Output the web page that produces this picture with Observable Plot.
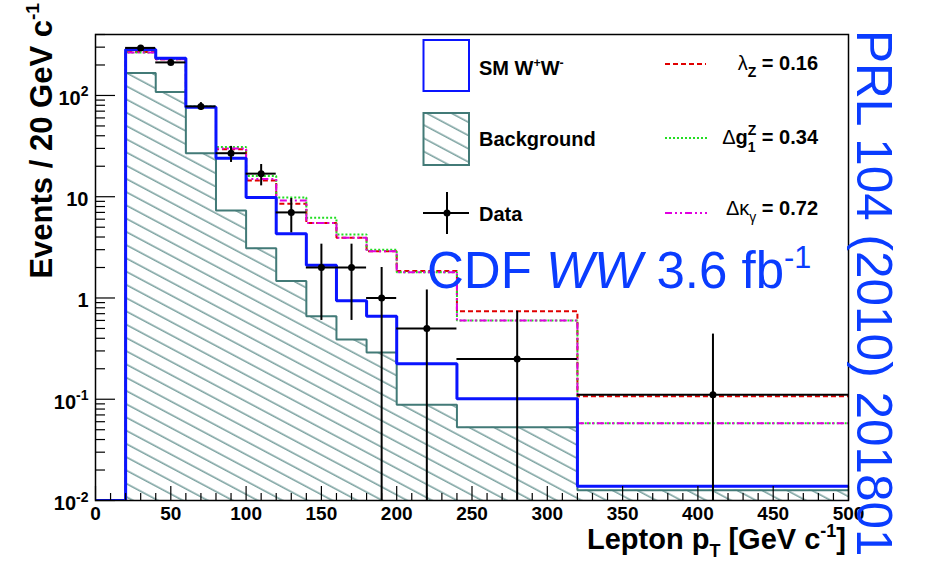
<!DOCTYPE html>
<html><head><meta charset="utf-8">
<script src="https://cdn.jsdelivr.net/npm/d3@7"></script>
<script src="https://cdn.jsdelivr.net/npm/@observablehq/plot@0.6"></script>
<style>body{margin:0;background:#fff} svg{display:block}</style>
</head><body><div id="chart"></div>
<script>
// ---- data ----
const binEdges = [0, 20, 40, 60, 80, 100, 120, 140, 160, 180, 200, 240, 320, 500];
const smWW            = [0, 285, 233, 76.7, 24, 9.8, 4.3, 2.1, 0.94, 0.66, 0.224, 0.101, 0.0138];
const background      = [0, 167, 108, 26.9, 7.3, 3.1, 1.47, 0.66, 0.39, 0.29, 0.088, 0.053, 0.0126];
const lambdaZ         = [0, 268, 228, 77, 29.5, 14.5, 8.5, 5.5, 3.93, 2.9, 1.85, 0.74, 0.107];
const deltaG1Z        = [0, 266, 229, 78, 31, 16, 9.8, 6.2, 4.24, 3.0, 1.8, 0.6, 0.058];
const deltaKappaGamma = [0, 265, 228, 77, 30, 15, 9.2, 5.5, 3.93, 2.9, 1.8, 0.6, 0.058];
const dataX     = [30, 50, 70, 90, 110, 130, 150, 170, 190, 220, 280, 410];
const dataXLow  = [20, 40, 60, 80, 100, 120, 140, 160, 180, 200, 240, 320];
const dataXHigh = [40, 60, 80, 100, 120, 140, 160, 180, 200, 240, 320, 500];
const dataY     = [295, 212, 78, 26.9, 16.9, 7.0, 2.0, 2.0, 1.0, 0.5, 0.25, 0.111];
const dataYLow  = [280, 198, 71, 21.8, 12.8, 4.4, 0.6, 0.6, 0, 0, 0, 0];
const dataYHigh = [311, 227, 85, 31.4, 20.8, 9.6, 3.4, 3.4, 2.0, 1.2, 0.74, 0.44];
const xDomain = [0, 500];
const yDomain = [0.01, 400];
const xTicks = [0, 50, 100, 150, 200, 250, 300, 350, 400, 450, 500];
const xTickLabels = ["0", "50", "100", "150", "200", "250", "300", "350", "400", "450", "500"];
const yTicks = [0.01, 0.1, 1, 10, 100];
const yTickLabels = ["10^{-2}", "10^{-1}", "1", "10", "10^{2}"];

// ---- styles ----
const BLUE = "#0a14ff", TEAL = "#427a77", RED = "#e00000", GREEN = "#22dd22", MAGENTA = "#e000e0", TXTBLUE = "#0a3cff";
const FONT = "'Liberation Sans', Arial, Helvetica, sans-serif";
const W = 927, H = 566, mL = 95, mR = 79, mT = 34, mB = 66;
const fw = W - mL - mR, fh = H - mT - mB;

const floorY = v => Math.max(v, yDomain[0]);
const steps = vals => binEdges.map((e, i) => ({x: e, y: floorY(vals[Math.min(i, vals.length - 1)])}));
const dataTable = dataX.map((x, i) => ({x, x1: dataXLow[i], x2: dataXHigh[i], y: dataY[i], y1: floorY(dataYLow[i]), y2: dataYHigh[i]}));
const yMinor = [];
for (const d of yTicks) for (let k = 2; k <= 9; k++) { const v = k * d; if (v <= yDomain[1]) yMinor.push(v); }
const xMinor = d3.range(xDomain[0], xDomain[1] + 1, 10).filter(v => v % 50 !== 0);
const yLabelTable = yTicks.map((v, i) => ({v, label: yTickLabels[i]}));
const xLabelTable = xTicks.map((v, i) => ({v, label: xTickLabels[i]}));

const stepLine = (vals, stroke, strokeWidth, dash) => Plot.line(steps(vals), {
  x: "x", y: "y", curve: "step-after", stroke, strokeWidth, strokeDasharray: dash,
  strokeLinejoin: "miter", strokeLinecap: "butt", clip: true
});

const plot = Plot.plot({
  width: W, height: H, marginLeft: mL, marginRight: mR, marginTop: mT, marginBottom: mB,
  x: {domain: xDomain, axis: null},
  y: {type: "log", domain: yDomain, axis: null},
  style: {fontFamily: FONT, background: "white"},
  marks: [
    Plot.areaY(steps(background), {x: "x", y1: yDomain[0], y2: "y", curve: "step-after", fill: "url(#bgHatch)", clip: true}),
    stepLine(background, TEAL, 2),
    stepLine(lambdaZ, RED, 2, "5,3"),
    stepLine(deltaG1Z, GREEN, 2, "2,2"),
    stepLine(deltaKappaGamma, MAGENTA, 2, "7,3,2,3,2,3"),
    stepLine(smWW, BLUE, 3),
    Plot.ruleX(dataTable, {x: "x", y1: "y1", y2: "y2", stroke: "black", strokeWidth: 2, clip: true}),
    Plot.ruleY(dataTable, {y: "y", x1: "x1", x2: "x2", stroke: "black", strokeWidth: 2, clip: true}),
    Plot.dot(dataTable, {x: "x", y: "y", r: 3.5, fill: "black"}),
    Plot.tickY(yTicks, {y: d => d, insetRight: fw - 20, stroke: "black", strokeWidth: 1.2}),
    Plot.tickY(yMinor, {y: d => d, insetRight: fw - 10, stroke: "black", strokeWidth: 1.2}),
    Plot.tickX(xTicks, {x: d => d, insetTop: fh - 14, stroke: "black", strokeWidth: 1.2}),
    Plot.tickX(xMinor, {x: d => d, insetTop: fh - 7, stroke: "black", strokeWidth: 1.2}),
    Plot.frame({stroke: "black", strokeWidth: 1.5}),
    Plot.text(yLabelTable, {y: "v", text: "label", frameAnchor: "left", textAnchor: "end", dx: -7, dy: 3, fontSize: 20, fontWeight: "bold", fill: "black"}),
    Plot.text(xLabelTable, {x: "v", text: "label", frameAnchor: "bottom", lineAnchor: "top", dy: 6, fontSize: 19, fontWeight: "bold", fill: "black"})
  ]
});
document.getElementById("chart").appendChild(plot);

const svg = d3.select(plot);
const defs = svg.insert("defs", ":first-child");
const pat = defs.append("pattern").attr("id", "bgHatch").attr("patternUnits", "userSpaceOnUse")
  .attr("width", 12).attr("height", 11.7).attr("patternTransform", "rotate(28)");
pat.append("line").attr("x1", -1).attr("x2", 13).attr("y1", 5).attr("y2", 5).attr("stroke", TEAL).attr("stroke-width", 1.1);

// ---- rich text helper (super/subscripts) ----
function parseRich(s) {
  const segs = []; const re = /([\^_])\{([^}]*)\}/g; let last = 0, m;
  while ((m = re.exec(s))) {
    if (m.index > last) segs.push({t: s.slice(last, m.index)});
    segs.push(m[1] === "^" ? {t: m[2], sup: true} : {t: m[2], sub: true});
    last = re.lastIndex;
  }
  if (last < s.length) segs.push({t: s.slice(last)});
  return segs;
}
function fillRich(t, segs, size, defScale = 0.62) {
  let shift = 0;
  for (const s of segs) {
    const ts = t.append("tspan").text(s.t);
    let target = 0, fsz = size;
    if (s.sup) { target = -size * (s.rise || 0.42); fsz = size * (s.scale || defScale); }
    if (s.sub) { target = size * (s.drop || 0.28); fsz = size * (s.scale || defScale); }
    ts.attr("font-size", fsz).attr("dy", target - shift);
    if (s.dx) ts.attr("dx", s.dx);
    if (s.italic) ts.attr("font-style", "italic");
    if (s.weight) ts.attr("font-weight", s.weight);
    shift = target;
  }
}
function richText(g, x, y, segs, {size, weight = "bold", anchor = "start", fill = "black", transform, scale} = {}) {
  const t = g.append("text").attr("font-family", FONT).attr("font-size", size).attr("font-weight", weight)
    .attr("text-anchor", anchor).attr("fill", fill);
  if (transform) t.attr("transform", transform); else t.attr("x", x).attr("y", y);
  fillRich(t, typeof segs === "string" ? parseRich(segs) : segs, size, scale);
  return t;
}
svg.selectAll("text").each(function () {
  const s = this.textContent;
  if (/[\^_]\{/.test(s)) { const t = d3.select(this); t.text(null); fillRich(t, parseRich(s), 20, 0.7); }
});

// ---- axis titles ----
const ann = svg.append("g");
richText(ann, 0, 0, "Events / 20 GeV c^{-1}", {size: 31, anchor: "end", transform: "translate(52,3) rotate(-90)"});
richText(ann, 846, 549, "Lepton p_{T} [GeV c^{-1}]", {size: 29, anchor: "end"});

// ---- legend ----
const lg = svg.append("g");
lg.append("rect").attr("x", 423.5).attr("y", 40).attr("width", 45.5).attr("height", 51).attr("fill", "white").attr("stroke", BLUE).attr("stroke-width", 2);
lg.append("rect").attr("x", 423.5).attr("y", 113).attr("width", 45.5).attr("height", 52).attr("fill", "url(#bgHatch)").attr("stroke", TEAL).attr("stroke-width", 2);
lg.append("line").attr("x1", 423).attr("x2", 469).attr("y1", 213).attr("y2", 213).attr("stroke", "black").attr("stroke-width", 2);
lg.append("line").attr("x1", 447).attr("x2", 447).attr("y1", 192).attr("y2", 234).attr("stroke", "black").attr("stroke-width", 2);
lg.append("circle").attr("cx", 447).attr("cy", 213).attr("r", 3.5).attr("fill", "black");
richText(lg, 479, 75, [{t: "SM W"}, {t: "+", sup: true}, {t: "W"}, {t: "-", sup: true}], {size: 20});
richText(lg, 479, 146, "Background", {size: 20});
richText(lg, 479, 221, "Data", {size: 20});
lg.append("line").attr("x1", 665).attr("x2", 706).attr("y1", 64).attr("y2", 64).attr("stroke", RED).attr("stroke-width", 2).attr("stroke-dasharray", "5,3");
lg.append("line").attr("x1", 665).attr("x2", 707).attr("y1", 138).attr("y2", 138).attr("stroke", GREEN).attr("stroke-width", 2).attr("stroke-dasharray", "2,2");
lg.append("line").attr("x1", 665).attr("x2", 707).attr("y1", 213).attr("y2", 213).attr("stroke", MAGENTA).attr("stroke-width", 2).attr("stroke-dasharray", "7,3,2,3,2,3");
richText(lg, 818, 70, [{t: "λ", weight: "normal"}, {t: "Z", sub: true, scale: 0.7, drop: 0.35}, {t: " = 0.16"}], {size: 20, anchor: "end"});
richText(lg, 818, 144, [{t: "Δ", weight: "normal"}, {t: "g"}, {t: "1", sub: true, scale: 0.7, drop: 0.4}, {t: "Z", sup: true, scale: 0.7, rise: 0.45, dx: -7.8}, {t: " = 0.34"}], {size: 20, anchor: "end"});
richText(lg, 818, 215, [{t: "Δκ", weight: "normal"}, {t: "γ", sub: true, scale: 0.7, drop: 0.35, weight: "normal"}, {t: " = 0.72"}], {size: 20, anchor: "end"});

// ---- annotations ----
richText(ann, 427, 288, [{t: "CDF "}, {t: "WW", italic: true}, {t: " 3.6 fb"}, {t: "-1", sup: true, scale: 0.6, rise: 0.4}], {size: 51, weight: "normal", fill: TXTBLUE});
richText(ann, 0, 0, "PRL 104 (2010) 201801", {size: 49.5, weight: "normal", fill: TXTBLUE, transform: "translate(857,30) rotate(90)"});
</script></body></html>
